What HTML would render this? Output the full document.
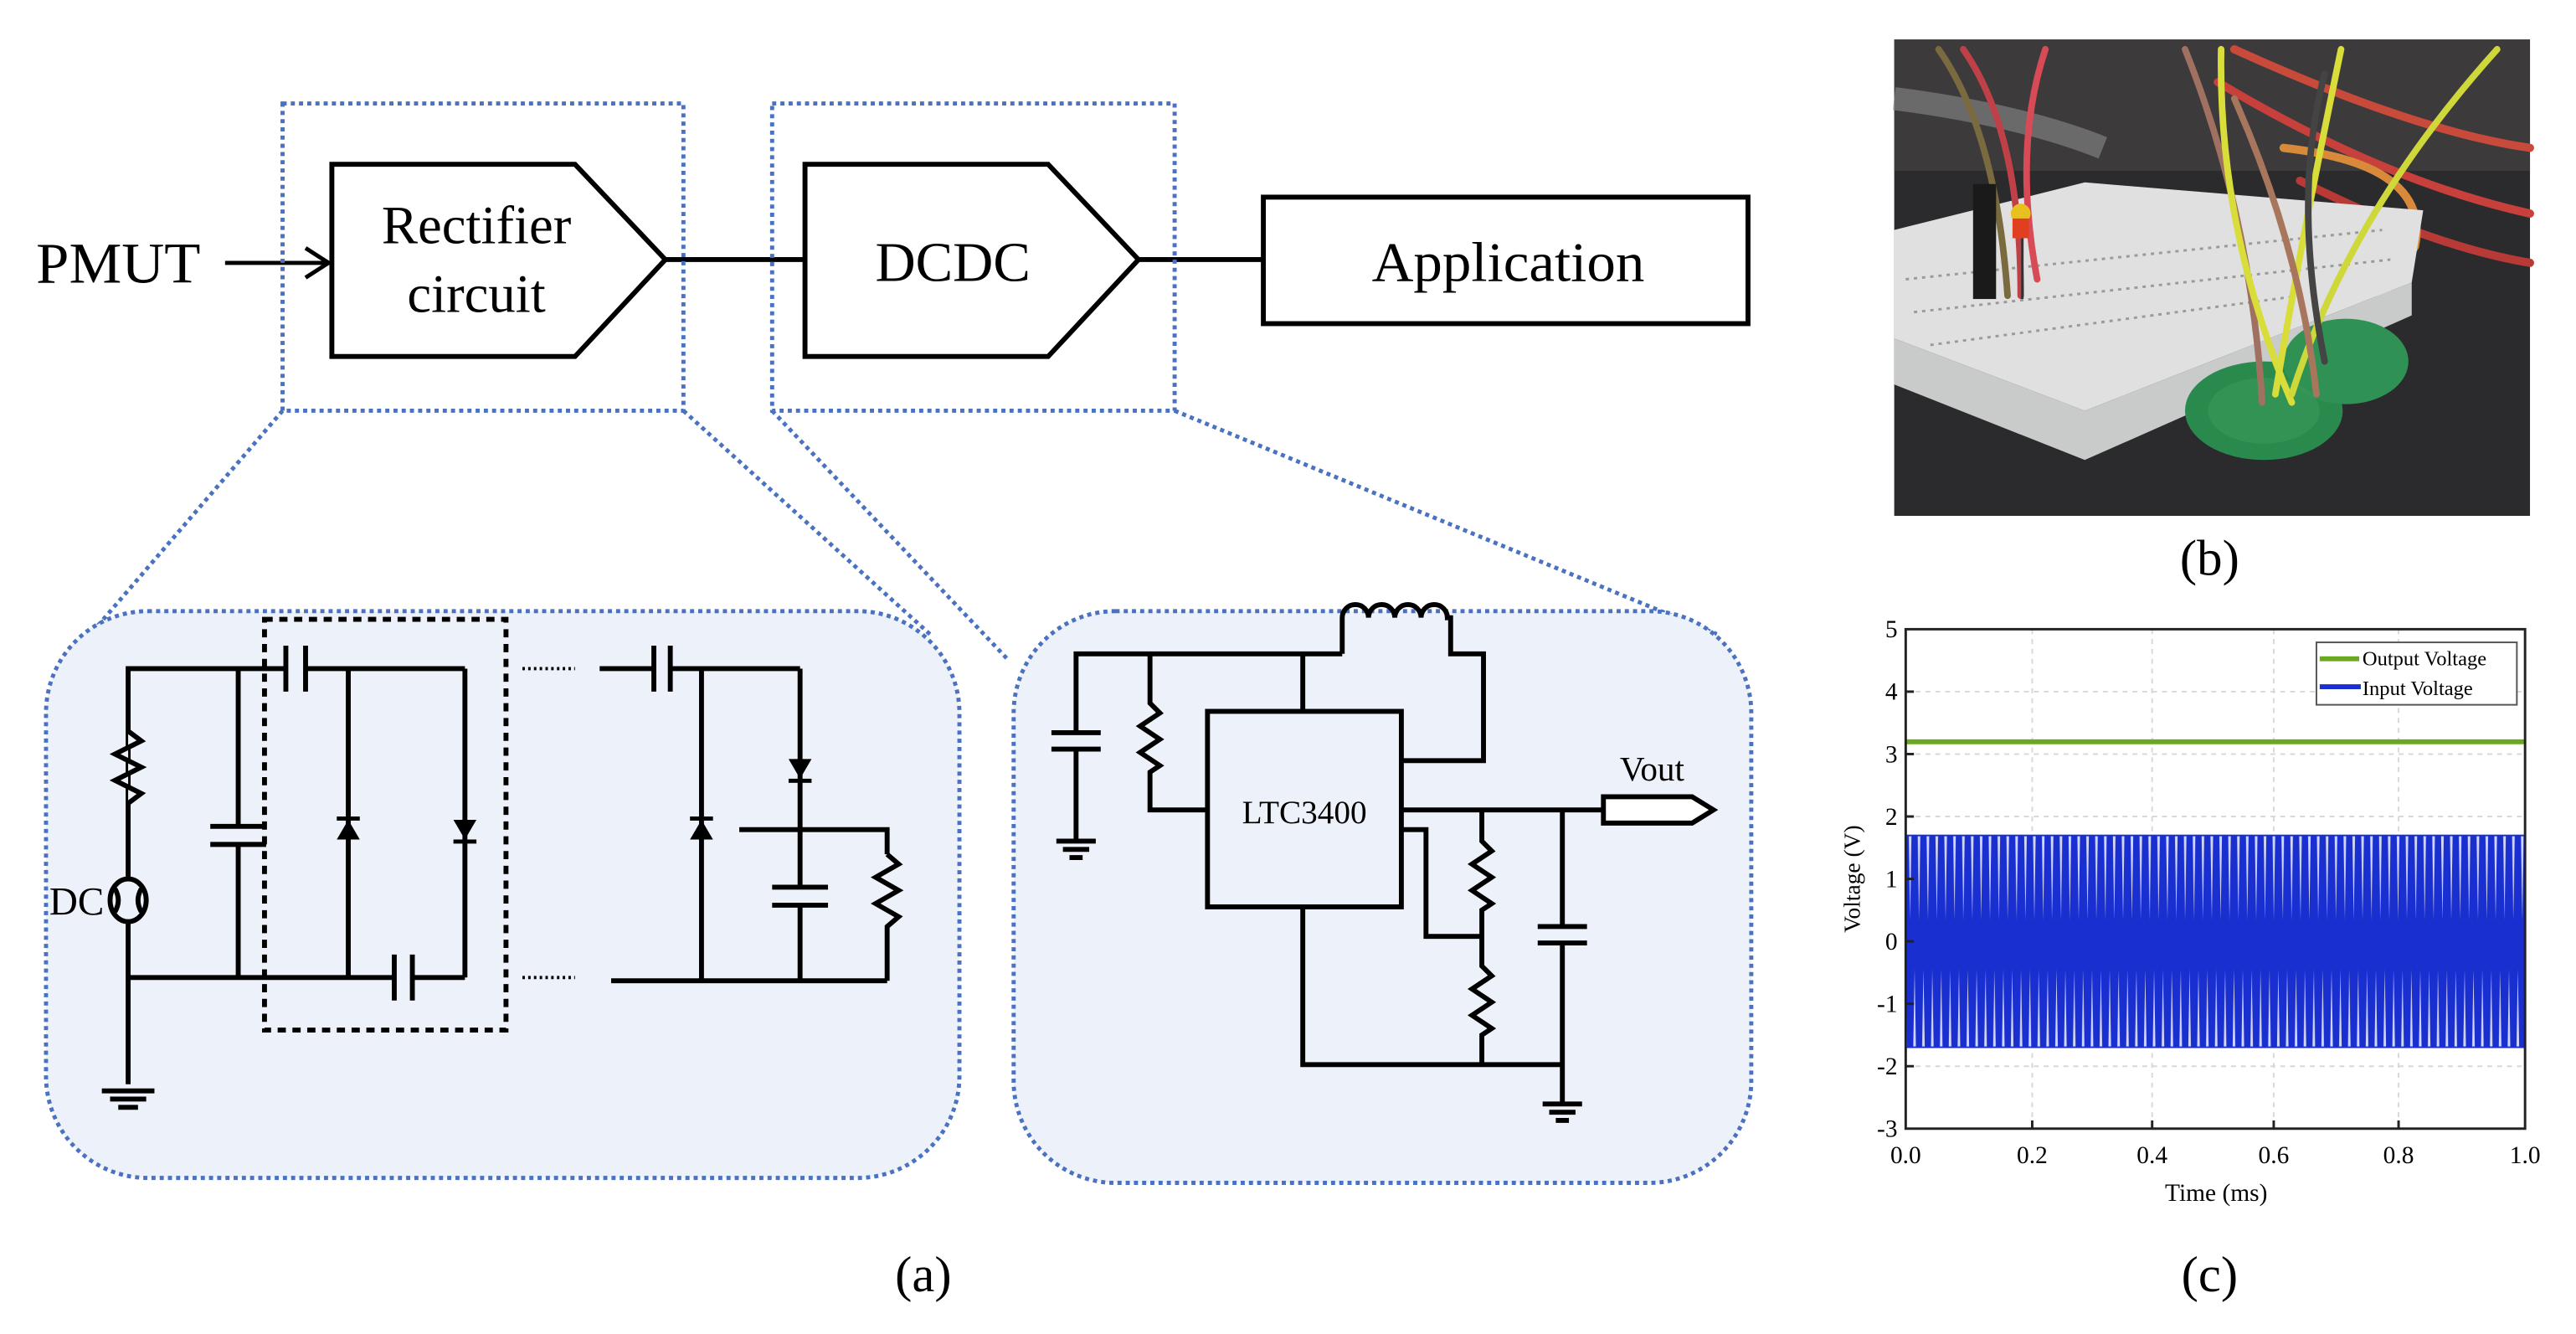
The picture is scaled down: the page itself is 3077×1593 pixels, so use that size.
<!DOCTYPE html>
<html><head><meta charset="utf-8"><style>
html,body{margin:0;padding:0;background:#fff;}
svg{display:block;}
text{font-family:"Liberation Serif",serif;fill:#000;}
</style></head><body>
<svg width="3077" height="1593" viewBox="0 0 1568 812" preserveAspectRatio="none" xmlns="http://www.w3.org/2000/svg">
<defs>
<pattern id="wave" patternUnits="userSpaceOnUse" x="1160" y="0" width="5.4" height="812">
<rect x="0" y="508" width="5.4" height="130" fill="#1a2fd0"/>
<polygon points="1.9,509 3.5,509 2.7,560" fill="#ffffff" opacity="0.8"/>
<polygon points="4.6,637 5.4,637 5.4,590" fill="#ffffff" opacity="0.8"/>
<polygon points="0,637 0.8,637 0,590" fill="#ffffff" opacity="0.8"/>
</pattern>
</defs>

<!-- top block diagram -->
<text x="22" y="172" font-size="35" textLength="100" lengthAdjust="spacingAndGlyphs">PMUT</text>
<line x1="137" y1="160" x2="198" y2="160" stroke="#000" stroke-width="2.5"/>
<polyline points="186,151 200,160 186,169" fill="none" stroke="#000" stroke-width="2.5"/>
<polygon points="202,100 350,100 405,158 350,217 202,217" fill="#fff" stroke="#000" stroke-width="3"/>
<text x="290" y="148" font-size="33" text-anchor="middle">Rectifier</text>
<text x="290" y="190" font-size="33" text-anchor="middle">circuit</text>
<line x1="405" y1="158" x2="490" y2="158" stroke="#000" stroke-width="3"/>
<polygon points="490,100 638,100 693,158 638,217 490,217" fill="#fff" stroke="#000" stroke-width="3"/>
<text x="580" y="171" font-size="34" text-anchor="middle">DCDC</text>
<line x1="693" y1="158" x2="769" y2="158" stroke="#000" stroke-width="3"/>
<rect x="769" y="120" width="295" height="77" fill="#fff" stroke="#000" stroke-width="3"/>
<text x="918" y="171" font-size="34" text-anchor="middle" textLength="166" lengthAdjust="spacingAndGlyphs">Application</text>

<!-- dotted callouts -->
<g fill="none" stroke="#4a72c0" stroke-width="2.5" stroke-dasharray="2.5,2.5">
<rect x="172" y="63" width="244" height="187"/>
<rect x="470" y="63" width="245" height="187"/>
<line x1="172" y1="250" x2="50" y2="392"/>
<line x1="416" y1="250" x2="566" y2="386"/>
<line x1="470" y1="250" x2="614" y2="402"/>
<line x1="715" y1="250" x2="1045" y2="386"/>
</g>
<rect x="28" y="372" width="556" height="345" rx="62" fill="#edf1f9" stroke="#4a72c0" stroke-width="2.5" stroke-dasharray="2.5,2.5"/>
<rect x="617" y="372" width="449" height="348" rx="62" fill="#edf1f9" stroke="#4a72c0" stroke-width="2.5" stroke-dasharray="2.5,2.5"/>

<!-- left circuit -->
<g stroke="#000" stroke-width="3" fill="none">
<polyline points="78,660 78,407 174,407"/>
<line x1="186" y1="407" x2="283" y2="407"/>
<line x1="283" y1="407" x2="283" y2="595"/>
<line x1="212" y1="407" x2="212" y2="595"/>
<line x1="145" y1="407" x2="145" y2="503"/>
<line x1="145" y1="514" x2="145" y2="595"/>
<line x1="78" y1="595" x2="240" y2="595"/>
<line x1="251" y1="595" x2="283" y2="595"/>
<line x1="128" y1="503" x2="162" y2="503"/><line x1="128" y1="514" x2="162" y2="514"/>
<line x1="174" y1="393" x2="174" y2="421"/><line x1="186" y1="393" x2="186" y2="421"/>
<line x1="240" y1="581" x2="240" y2="609"/><line x1="251" y1="581" x2="251" y2="609"/>
<polyline points="78,445 86,451 70,459 86,467 70,475 86,483 78,489" fill="#edf1f9"/>
<ellipse cx="78" cy="548" rx="11" ry="13" fill="#edf1f9"/>
<path d="M70,541 q4,7 0,14 M86,541 q-4,7 0,14"/>
<line x1="62" y1="664" x2="94" y2="664"/><line x1="67" y1="669" x2="89" y2="669"/><line x1="72" y1="674" x2="84" y2="674"/>
<rect x="161" y="377" width="147" height="250" stroke-dasharray="5,4"/>
<line x1="365" y1="407" x2="398" y2="407"/>
<line x1="408" y1="407" x2="487" y2="407"/>
<line x1="398" y1="393" x2="398" y2="421"/><line x1="408" y1="393" x2="408" y2="421"/>
<line x1="427" y1="407" x2="427" y2="597"/>
<line x1="487" y1="407" x2="487" y2="540"/>
<line x1="487" y1="551" x2="487" y2="597"/>
<line x1="470" y1="540" x2="504" y2="540"/><line x1="470" y1="551" x2="504" y2="551"/>
<polyline points="450,505 540,505 540,520"/>
<polyline points="540,520 547,526 533,534 547,542 533,550 547,558 540,564 540,597"/>
<line x1="372" y1="597" x2="540" y2="597"/>
</g>
<g fill="#000">
<polygon points="205,511 219,511 212,499"/><rect x="205" y="497" width="14" height="2.5"/>
<polygon points="276,499 290,499 283,511"/><rect x="276" y="511" width="14" height="2.5"/>
<polygon points="420,511 434,511 427,499"/><rect x="420" y="497" width="14" height="2.5"/>
<polygon points="480,462 494,462 487,474"/><rect x="480" y="474" width="14" height="2.5"/>
</g>
<g fill="none" stroke="#000" stroke-width="2" stroke-dasharray="1.5,2">
<line x1="318" y1="407" x2="350" y2="407"/><line x1="318" y1="595" x2="350" y2="595"/>
</g>
<text x="30" y="557" font-size="24" font-family="Liberation Sans,sans-serif">DC</text>

<!-- right circuit -->
<g stroke="#000" stroke-width="3" fill="none">
<polyline points="655,446 655,398 817,398"/>
<line x1="655" y1="456" x2="655" y2="512"/>
<line x1="640" y1="446" x2="670" y2="446"/><line x1="640" y1="456" x2="670" y2="456"/>
<line x1="643" y1="512" x2="667" y2="512"/><line x1="647" y1="517" x2="663" y2="517"/><line x1="651" y1="522" x2="659" y2="522"/>
<polyline points="700,398 700,428 706,434 694,442 706,450 694,458 706,466 700,470 700,493 735,493"/>
<line x1="793" y1="398" x2="793" y2="433"/>
<rect x="735" y="433" width="118" height="119" fill="#edf1f9"/>
<path d="M817,398 V376 a8,8 0 0 1 16,0 a8,8 0 0 1 16,0 a8,8 0 0 1 16,0 a8,8 0 0 1 16,0 H883 V398 H903 V463 H853"/>
<polyline points="853,493 976,493"/>
<polygon points="976,485 1030,485 1043,493 1030,501 976,501" fill="#fff"/>
<polyline points="902,493 902,512 908,518 896,526 908,534 896,542 908,550 902,554 902,588 908,594 896,602 908,610 896,618 908,626 902,630 902,648"/>
<polyline points="853,505 868,505 868,570 902,570"/>
<line x1="951" y1="493" x2="951" y2="564"/>
<line x1="951" y1="574" x2="951" y2="672"/>
<line x1="936" y1="564" x2="966" y2="564"/><line x1="936" y1="574" x2="966" y2="574"/>
<polyline points="793,552 793,648 951,648"/>
<line x1="939" y1="672" x2="963" y2="672"/><line x1="943" y1="677" x2="959" y2="677"/><line x1="947" y1="682" x2="955" y2="682"/>
</g>
<text x="794" y="501" font-size="20" text-anchor="middle">LTC3400</text>
<text x="986" y="475" font-size="21">Vout</text>

<text x="562" y="786" font-size="31" text-anchor="middle">(a)</text>
<text x="1345" y="350" font-size="31" text-anchor="middle">(b)</text>
<text x="1345" y="786" font-size="31" text-anchor="middle">(c)</text>

<!-- photo -->
<rect x="1153" y="24" width="387" height="290" fill="#2b2a2c"/>
<rect x="1153" y="24" width="387" height="80" fill="#4a4648" opacity="0.6"/>
<path d="M1153,60 Q1230,70 1280,90" stroke="#8a8a8a" stroke-width="14" fill="none" opacity="0.6"/>
<g fill="none" stroke-width="5" stroke-linecap="round">
<path d="M1350,50 Q1450,110 1540,130" stroke="#c8403c"/>
<path d="M1360,30 Q1470,80 1540,90" stroke="#c84a3a"/>
<path d="M1400,110 Q1480,150 1540,160" stroke="#b83a36"/>
<path d="M1390,90 Q1480,100 1470,150 Q1440,200 1420,210" stroke="#d88a3a"/>
</g>
<polygon points="1153,140 1269,111 1475,128 1468,172 1269,250 1153,206" fill="#dfe0df"/>
<polygon points="1153,206 1269,250 1468,172 1468,192 1269,280 1153,234" fill="#c9cbca"/>
<g stroke="#9a9a9a" stroke-width="1.5" stroke-dasharray="2,3">
<line x1="1160" y1="170" x2="1450" y2="140"/><line x1="1165" y1="190" x2="1455" y2="158"/>
<line x1="1175" y1="210" x2="1400" y2="180"/>
</g>
<ellipse cx="1378" cy="250" rx="48" ry="30" fill="#2a8a4e"/>
<ellipse cx="1428" cy="220" rx="38" ry="26" fill="#2f9254"/>
<ellipse cx="1378" cy="250" rx="34" ry="20" fill="#3a9a5a" opacity="0.6"/>
<g fill="none" stroke-width="4" stroke-linecap="round">
<path d="M1180,30 Q1215,80 1222,180" stroke="#7a6a40"/>
<path d="M1195,30 Q1230,80 1230,180" stroke="#c04048"/>
<path d="M1245,30 Q1225,90 1240,170" stroke="#d84a55"/>
<path d="M1330,30 Q1370,130 1377,245" stroke="#a07060"/>
<path d="M1352,30 Q1350,140 1395,245" stroke="#d8dd3a"/>
<path d="M1425,30 Q1400,150 1385,240" stroke="#d8dd3a"/>
<path d="M1520,30 Q1430,130 1395,240" stroke="#cfd83a"/>
<path d="M1415,45 Q1395,120 1415,220" stroke="#444"/>
<path d="M1360,60 Q1400,150 1410,240" stroke="#a8765c"/>
</g>
<rect x="1201" y="112" width="14" height="70" fill="#1a1a1a"/>
<circle cx="1230" cy="130" r="6" fill="#e8c020"/>
<rect x="1225" y="133" width="10" height="12" fill="#e04020"/>
<line x1="1231" y1="145" x2="1231" y2="182" stroke="#333" stroke-width="1.5"/>

<!-- plot -->
<g stroke="#d8d8d8" stroke-width="1" stroke-dasharray="3,3">
<line x1="1237" y1="383" x2="1237" y2="687"/><line x1="1310" y1="383" x2="1310" y2="687"/>
<line x1="1384" y1="383" x2="1384" y2="687"/><line x1="1460" y1="383" x2="1460" y2="687"/>
<line x1="1160" y1="421" x2="1537" y2="421"/><line x1="1160" y1="459" x2="1537" y2="459"/>
<line x1="1160" y1="497" x2="1537" y2="497"/><line x1="1160" y1="535" x2="1537" y2="535"/>
<line x1="1160" y1="573" x2="1537" y2="573"/><line x1="1160" y1="611" x2="1537" y2="611"/>
<line x1="1160" y1="649" x2="1537" y2="649"/>
</g>
<rect x="1160.5" y="508" width="376" height="130" fill="url(#wave)"/>
<line x1="1160" y1="451.5" x2="1537" y2="451.5" stroke="#6aa820" stroke-width="3"/>
<rect x="1160" y="383" width="377" height="304" fill="none" stroke="#222" stroke-width="1.5"/>
<g stroke="#222" stroke-width="1.5">
<line x1="1237" y1="687" x2="1237" y2="682"/><line x1="1310" y1="687" x2="1310" y2="682"/>
<line x1="1384" y1="687" x2="1384" y2="682"/><line x1="1460" y1="687" x2="1460" y2="682"/>
<line x1="1160" y1="421" x2="1165" y2="421"/><line x1="1160" y1="459" x2="1165" y2="459"/>
<line x1="1160" y1="497" x2="1165" y2="497"/><line x1="1160" y1="535" x2="1165" y2="535"/>
<line x1="1160" y1="573" x2="1165" y2="573"/><line x1="1160" y1="611" x2="1165" y2="611"/>
<line x1="1160" y1="649" x2="1165" y2="649"/>
</g>
<rect x="1410" y="391" width="122" height="38" fill="#fff" stroke="#555" stroke-width="1"/>
<line x1="1412" y1="401" x2="1436" y2="401" stroke="#6aa820" stroke-width="3"/>
<line x1="1412" y1="418" x2="1437" y2="418" stroke="#1a2fd0" stroke-width="3"/>
<text x="1438" y="405" font-size="12.5">Output Voltage</text>
<text x="1438" y="423" font-size="12.5">Input Voltage</text>
<g font-size="15" text-anchor="end">
<text x="1155" y="388">5</text><text x="1155" y="426">4</text><text x="1155" y="464">3</text>
<text x="1155" y="502">2</text><text x="1155" y="540">1</text><text x="1155" y="578">0</text>
<text x="1155" y="616">-1</text><text x="1155" y="654">-2</text><text x="1155" y="692">-3</text>
</g>
<g font-size="15" text-anchor="middle">
<text x="1160" y="708">0.0</text><text x="1237" y="708">0.2</text><text x="1310" y="708">0.4</text>
<text x="1384" y="708">0.6</text><text x="1460" y="708">0.8</text><text x="1537" y="708">1.0</text>
</g>
<text x="1349" y="731" font-size="15" text-anchor="middle">Time (ms)</text>
<text x="0" y="0" font-size="14" text-anchor="middle" transform="translate(1132,535) rotate(-90)">Voltage (V)</text>
</svg>
</body></html>
